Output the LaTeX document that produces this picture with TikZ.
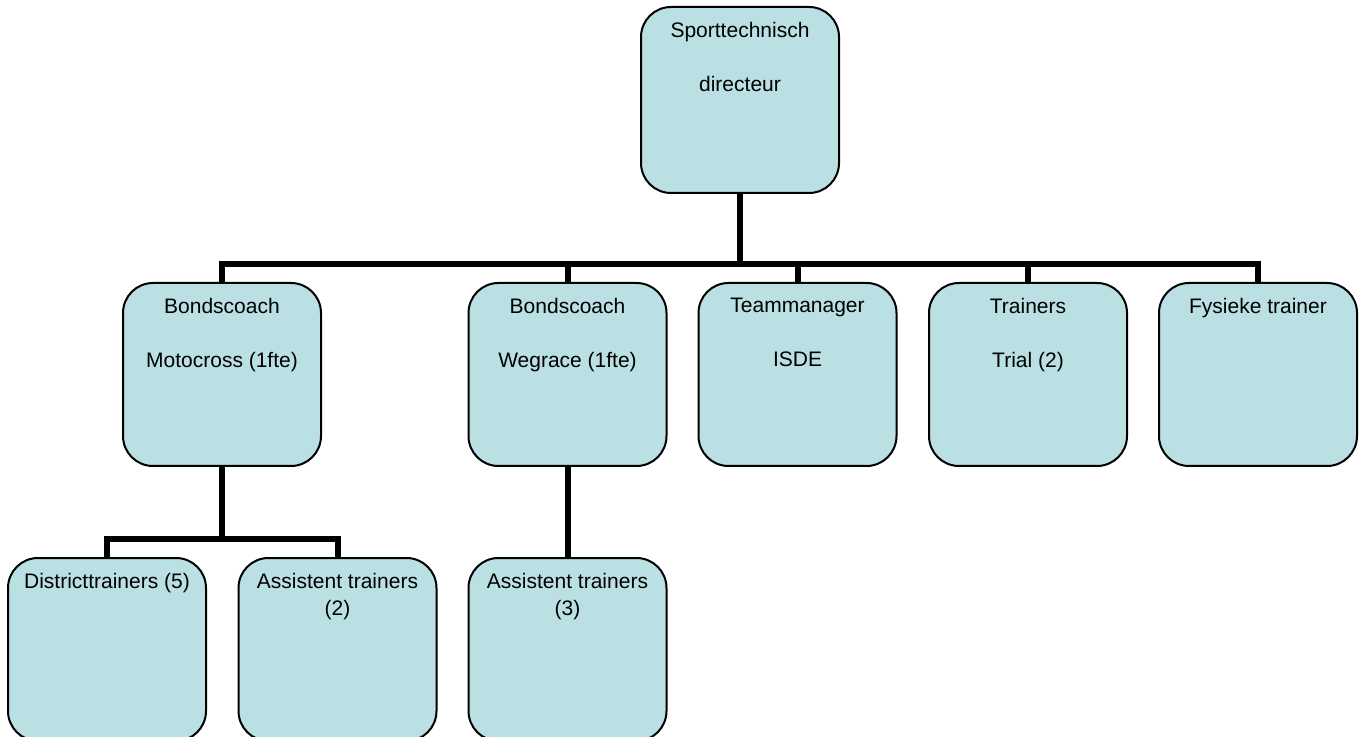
\documentclass[tikz,border=0pt]{standalone}
\usepackage{fontspec}
\setmainfont{Liberation Sans}
\definecolor{boxfill}{RGB}{186,224,227}
\begin{document}
\begin{tikzpicture}[x=0.75pt,y=-0.75pt,
  orgbox/.style={draw=black, line width=1.5pt, fill=boxfill, rounded corners=22.5pt,
    minimum width=148.5pt, minimum height=137.25pt, inner sep=0pt},
  topbox/.style={orgbox, minimum height=139.5pt},
  lbl/.style={anchor=north, align=center, inner sep=0pt, font=\fontsize{15.75}{20.5}\selectfont},
  conn/.style={draw=black, line width=4.5pt}]
\useasboundingbox (0,0) rectangle (1363,737);
% boxes
\node[topbox] (top) at (740,100) {};
\node[orgbox] (b1) at (222,374.5) {};
\node[orgbox] (b2) at (567.5,374.5) {};
\node[orgbox] (b3) at (797.5,374.5) {};
\node[orgbox] (b4) at (1028,374.5) {};
\node[orgbox] (b5) at (1258,374.5) {};
\node[orgbox] (c1) at (107,649.5) {};
\node[orgbox] (c2) at (337.5,649.5) {};
\node[orgbox] (c3) at (567.5,649.5) {};
% labels
\node[lbl] (ttop) at ([yshift=-12pt]top.north) {Sporttechnisch\\[20pt]directeur};
\node[lbl] (tb1) at ([yshift=-12pt]b1.north) {Bondscoach\\[20pt]Motocross (1fte)};
\node[lbl] (tb2) at ([yshift=-12pt]b2.north) {Bondscoach\\[20pt]Wegrace (1fte)};
\node[lbl] (tb3) at ([yshift=-12pt]b3.north) {Teammanager\\[20pt]ISDE};
\node[lbl] (tb4) at ([yshift=-12pt]b4.north) {Trainers\\[20pt]Trial (2)};
\node[lbl] (tb5) at ([yshift=-12pt]b5.north) {Fysieke trainer};
\node[lbl] (tc1) at ([yshift=-12pt]c1.north) {Districttrainers (5)};
\node[lbl] (tc2) at ([yshift=-12pt]c2.north) {Assistent trainers\\(2)};
\node[lbl] (tc3) at ([yshift=-12pt]c3.north) {Assistent trainers\\(3)};
% connectors
\coordinate (bus) at (740,264);
\coordinate (bus2) at (222,539);
\draw[conn] (top.south) -- (bus);
\draw[conn] (b1.north) |- (bus) -| (b5.north);
\draw[conn] (b2.north) -- (b2.north |- bus);
\draw[conn] (b3.north) -- (b3.north |- bus);
\draw[conn] (b4.north) -- (b4.north |- bus);
\draw[conn] (b1.south) -- (bus2);
\draw[conn] (c1.north) |- (bus2) -| (c2.north);
\draw[conn] (b2.south) -- (c3.north);
\end{tikzpicture}
\end{document}
